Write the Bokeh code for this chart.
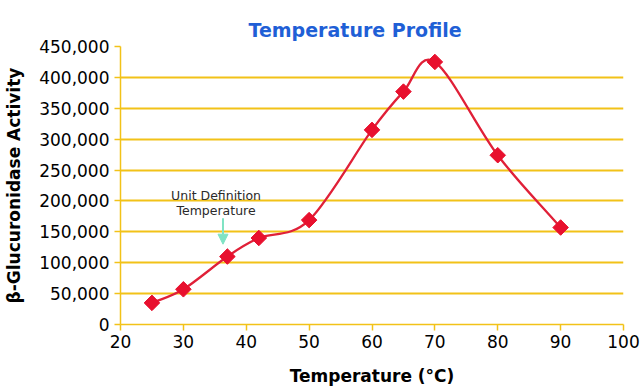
import numpy as np
from bokeh.plotting import figure
from bokeh.models import NumeralTickFormatter, FixedTicker, Range1d, Arrow, NormalHead, Label, Title
from bokeh.embed import file_html
from bokeh.resources import INLINE

temps = [25, 30, 37, 42, 50, 60, 65, 70, 80, 90]
activity = [35000, 57000, 110000, 140000, 169000, 315000, 377000, 425000, 274000, 157000]
x_ticks = [20, 30, 40, 50, 60, 70, 80, 90, 100]
y_ticks = [0, 50000, 100000, 150000, 200000, 250000, 300000, 350000, 400000, 450000]

FONT = "DejaVu Sans"
GOLD = "#f2c218"
RED = "#e8102e"

p = figure(width=640, height=388, output_backend="svg", toolbar_location=None,
           x_range=Range1d(20, 100), y_range=Range1d(0, 450000),
           min_border_left=120, min_border_right=17, min_border_top=46, min_border_bottom=64)
p.title = Title(text="Temperature Profile", text_font=FONT, text_font_size="19px",
                text_font_style="bold", text_color="#1f5fd6", align="left",
                offset=128, vertical_align="top", standoff=8)
p.outline_line_color = None

p.xaxis.ticker = FixedTicker(ticks=x_ticks)
p.yaxis.ticker = FixedTicker(ticks=y_ticks)
p.yaxis.formatter = NumeralTickFormatter(format="0,0")
for ax in (p.xaxis, p.yaxis):
    ax.axis_line_color = GOLD
    ax.axis_line_width = 1.5
    ax.major_tick_line_color = GOLD
    ax.major_tick_line_width = 1.5
    ax.major_tick_out = 6
    ax.major_tick_in = 0
    ax.minor_tick_line_color = None
    ax.major_label_text_font = FONT
    ax.major_label_text_font_size = "17px"
    ax.major_label_text_color = "black"
    ax.axis_label_text_font = FONT
    ax.axis_label_text_font_size = "17px"
    ax.axis_label_text_font_style = "bold"
    ax.axis_label_text_color = "black"
p.xaxis.axis_label = "Temperature (°C)"
p.yaxis.axis_label = "β-Glucuronidase Activity"
p.yaxis.major_label_orientation = "horizontal"
p.xaxis.major_label_standoff = 4
p.xaxis.axis_label_standoff = 15
p.yaxis.major_label_standoff = 5
p.yaxis.axis_label_standoff = 12

p.xgrid.grid_line_color = None
p.ygrid.grid_line_color = GOLD
p.ygrid.grid_line_width = 2

# smooth Catmull-Rom curve as bezier segments derived from the data
xs = np.array(temps, dtype=float)
ys = np.array(activity, dtype=float)
n = len(xs)
xe = np.concatenate([[2 * xs[0] - xs[1]], xs, [2 * xs[-1] - xs[-2]]])
ye = np.concatenate([[2 * ys[0] - ys[1]], ys, [2 * ys[-1] - ys[-2]]])
x0, y0, x1, y1, cx0, cy0, cx1, cy1 = [], [], [], [], [], [], [], []
for i in range(n - 1):
    j = i + 1
    x0.append(xe[j]); y0.append(ye[j]); x1.append(xe[j + 1]); y1.append(ye[j + 1])
    cx0.append(xe[j] + (xe[j + 1] - xe[j - 1]) / 6); cy0.append(ye[j] + (ye[j + 1] - ye[j - 1]) / 6)
    cx1.append(xe[j + 1] - (xe[j + 2] - xe[j]) / 6); cy1.append(ye[j + 1] - (ye[j + 2] - ye[j]) / 6)
p.bezier(x0=x0, y0=y0, x1=x1, y1=y1, cx0=cx0, cy0=cy0, cx1=cx1, cy1=cy1,
         line_color="#e02038", line_width=2.3)

p.scatter(temps, activity, marker="square", size=11, angle=np.pi / 4,
          fill_color=RED, line_color=RED)

# annotation
p.add_layout(Label(x=35.2, y=209000, text="Unit Definition", text_font=FONT,
                   text_font_size="12.5px", text_align="center", text_baseline="middle",
                   text_color="#2a2a2a"))
p.add_layout(Label(x=35.2, y=185000, text="Temperature", text_font=FONT,
                   text_font_size="12.5px", text_align="center", text_baseline="middle",
                   text_color="#2a2a2a"))
p.add_layout(Arrow(x_start=36.3, y_start=172000, x_end=36.3, y_end=130000,
                   line_color="#7fe3c4", line_width=2,
                   end=NormalHead(size=10, fill_color="#7fe3c4", line_color="#7fe3c4")))

open("out.html", "w").write(file_html(p, INLINE))
